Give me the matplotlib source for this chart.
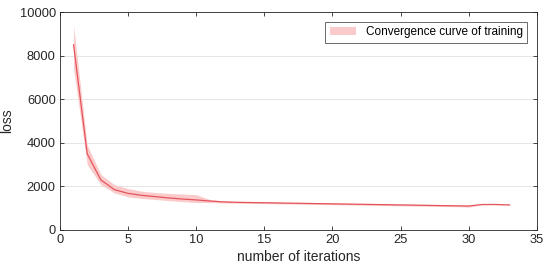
import numpy as np
import matplotlib.pyplot as plt

# convergence data
iters = np.arange(1, 34)
loss_mean = [8500, 3500, 2300, 1850, 1680, 1590, 1530, 1470, 1420, 1380,
             1330, 1290, 1270, 1260, 1250, 1240, 1230, 1220, 1210, 1200,
             1190, 1180, 1170, 1160, 1150, 1140, 1130, 1120, 1110, 1100,
             1170, 1170, 1150]
loss_upper = [9400, 3900, 2550, 2080, 1900, 1780, 1720, 1680, 1650, 1620,
              1400, 1330, 1310, 1300, 1290, 1280, 1270, 1260, 1250, 1240,
              1230, 1220, 1210, 1200, 1190, 1180, 1170, 1160, 1150, 1140,
              1180, 1180, 1160]
loss_lower = [7400, 3000, 2080, 1700, 1520, 1450, 1400, 1350, 1300, 1260,
              1260, 1240, 1230, 1220, 1210, 1200, 1190, 1180, 1170, 1160,
              1150, 1140, 1130, 1120, 1110, 1100, 1090, 1080, 1070, 1050,
              1160, 1160, 1140]

plt.rcParams['font.family'] = ['Liberation Sans', 'DejaVu Sans']

fig, ax = plt.subplots(figsize=(5.5, 2.69), dpi=100)
fig.subplots_adjust(left=0.109, right=0.976, top=0.955, bottom=0.145)

ax.fill_between(iters, loss_lower, loss_upper, color='#fbc6c6', alpha=0.9,
                linewidth=0, label='Convergence curve of training')
ax.plot(iters, loss_mean, color='#e4545b', linewidth=0.9)

ax.set_xlim(0, 35)
ax.set_ylim(0, 10000)
ax.set_xticks(range(0, 36, 5))
ax.set_yticks(range(0, 10001, 2000))
ax.yaxis.grid(True, color='#e6e6e6', linewidth=0.7)
ax.set_axisbelow(True)
ax.tick_params(direction='in', top=True, right=True, labelsize=9.3,
               colors='#262626', length=3, width=0.6, pad=3)
for s in ax.spines.values():
    s.set_color('#262626')
    s.set_linewidth(0.6)
ax.set_xlabel('number of iterations', fontsize=10, color='#262626', labelpad=3)
ax.set_ylabel('loss', fontsize=10, color='#262626', labelpad=4)

leg = ax.legend(loc='upper right', fontsize=8.5, frameon=True, fancybox=False,
                borderaxespad=0.8, handlelength=2.2)
leg.get_frame().set_edgecolor('#262626')
leg.get_frame().set_linewidth(0.6)

fig.savefig('out.png', dpi=100)
